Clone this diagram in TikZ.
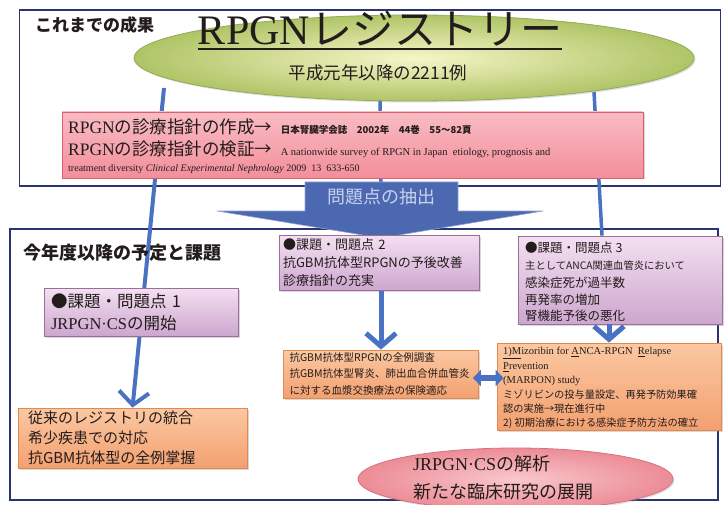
\documentclass[tikz,border=0pt]{standalone}
\usepackage{fontspec}
\setmainfont{Noto Sans CJK JP}
\newfontfamily\latf{Liberation Serif}
\usetikzlibrary{arrows.meta,shapes.geometric,shadows}
\newcommand\fsz[2]{\fontsize{#1}{#2}\selectfont}
\definecolor{navy}{HTML}{2A346E}
\definecolor{lineblue}{HTML}{4A72C2}
\definecolor{arrblue}{HTML}{4C68B0}
\definecolor{arrtext}{HTML}{C8D2EE}
\definecolor{greenin}{HTML}{F6F6C8}
\definecolor{greenout}{HTML}{AFC466}
\definecolor{greenbd}{HTML}{94AA58}
\definecolor{pinktop}{HTML}{F9BCC4}
\definecolor{pinkbot}{HTML}{F38E9A}
\definecolor{pinkbd}{HTML}{DE5E6E}
\definecolor{purtop}{HTML}{F3E0F1}
\definecolor{purbot}{HTML}{CDA6CF}
\definecolor{purbd}{HTML}{9A7098}
\definecolor{ortop}{HTML}{FBC8A2}
\definecolor{orbot}{HTML}{F3A070}
\definecolor{orbd}{HTML}{E08A50}
\definecolor{pelin}{HTML}{F9C8CC}
\definecolor{pelout}{HTML}{EC8C96}
\definecolor{pelbd}{HTML}{D87282}
\definecolor{ink}{HTML}{231C1C}
\pgfdeclarelayer{bg}
\pgfdeclarelayer{frames}
\pgfdeclarelayer{lines}
\pgfsetlayers{bg,frames,lines,main}
\begin{document}
\begin{tikzpicture}[x=1pt,y=-1pt,
  txt/.style={text=ink, inner sep=0},
  frame/.style={draw=navy, line width=1.6pt, inner sep=0},
  purbox/.style={draw=purbd, line width=0.8pt, top color=purtop, bottom color=purbot,
    drop shadow={opacity=0.3, shadow xshift=1.5pt, shadow yshift=-1.5pt},
    text=ink, align=left, inner ysep=0},
  orbox/.style={draw=orbd, line width=0.8pt, top color=ortop, bottom color=orbot,
    drop shadow={opacity=0.3, shadow xshift=1.5pt, shadow yshift=-1.5pt},
    text=ink, align=left, inner ysep=0},
  conn/.style={draw=lineblue, line width=3.5pt},
  chev/.style={draw=lineblue, line width=5pt, -{Straight Barb[length=13pt, width=30pt]}},
  dbl/.style={draw=lineblue, line width=6pt, {Triangle[length=8pt, width=16pt]}-{Triangle[length=8pt, width=16pt]}}
]
\begin{pgfonlayer}{bg}
\fill[white] (0,0) rectangle (725,505);
\end{pgfonlayer}
\useasboundingbox (0,0) rectangle (725,505);

% frames
\begin{pgfonlayer}{frames}
\node[frame, minimum width=701pt, minimum height=176pt] (topbox) at (370,98) {};
\node[frame, minimum width=708pt, minimum height=271pt] (lowbox) at (364,364.5) {};
\end{pgfonlayer}

% top part
\node[txt, anchor=west, font=\bfseries\fsz{17}{20}] (past) at (35,25) {これまでの成果};
\node[ellipse, draw=greenbd, line width=0.8pt, inner color=greenin, outer color=greenout,
  minimum width=560pt, minimum height=86pt,
  drop shadow={opacity=0.25, shadow xshift=1.5pt, shadow yshift=-1.5pt}] (reg) at (414,58) {};
\node[txt, anchor=base, font=\fsz{42}{46}] (title) at (380,45) {{\latf RPGN}レジストリー};
\draw[ink, line width=1.8pt] ([yshift=-4pt]title.base west) -- ([yshift=-4pt]title.base east);
\node[txt, font=\fsz{17.5}{20}] (sub) at (378,73) {平成元年以降の2211例};

\node[draw=pinkbd, line width=0.8pt, top color=pinktop, bottom color=pinkbot,
  minimum width=581pt, minimum height=66pt, inner sep=0,
  drop shadow={opacity=0.3, shadow xshift=1.5pt, shadow yshift=-1.5pt}] (pinkbox) at (352.5,145) {};
\node[txt, anchor=base west, font=\fsz{17.5}{20}] (p1a) at (68,134) {{\latf RPGN}の診療指針の作成→};
\node[txt, anchor=base west, font=\bfseries\fsz{9.5}{11}] (p1b) at ([xshift=8pt]p1a.base east) {日本腎臓学会誌\quad 2002年\quad 44巻\quad 55～82頁};
\node[txt, anchor=base west, font=\fsz{17.5}{20}] (p2a) at (68,156) {{\latf RPGN}の診療指針の検証→};
\node[txt, anchor=base west, font=\latf\fsz{10.5}{12}] (p2b) at ([xshift=8pt]p2a.base east) {A nationwide survey of RPGN in Japan\enspace etiology, prognosis and};
\node[txt, anchor=base west, font=\latf\fsz{10}{12}] (p3) at (68,172) {treatment diversity \textit{Clinical Experimental Nephrology} 2009\enspace 13\enspace 633-650};

% big arrow
\coordinate (arrtop) at (381,182);
\fill[arrblue, draw=arrblue!60!white, line width=0.6pt] (305,182) -- (458,182) -- (458,211) -- (543,211) -- (381,238) -- (217,211) -- (305,211) -- cycle;
\node[txt, text=arrtext, font=\fsz{18}{20}] (extract) at (381,197) {問題点の抽出};

% lower part
\node[txt, anchor=west, font=\bfseries\fsz{18}{20}] (future) at (23,253) {今年度以降の予定と課題};

\node[purbox, minimum height=48pt, text width=180pt, inner xsep=7pt, font=\fsz{16.5}{22}] (b1) at (141,312)
  {●課題・問題点 1\\{\latf JRPGN·CS}の開始};
\node[purbox, minimum height=55pt, text width=192pt, inner xsep=4pt, font=\fsz{13}{18}] (b2) at (379,263)
  {●課題・問題点 2\\抗GBM抗体型RPGNの予後改善\\診療指針の充実};
\node[purbox, minimum height=88pt, minimum width=204pt, inner sep=0] (b3) at (620,280) {};
\node[txt, anchor=west, font=\fsz{12.5}{14}] (b3a) at (525,248) {●課題・問題点 3};
\node[txt, anchor=west, font=\fsz{10.3}{12}] (b3b) at (525,266) {主としてANCA関連血管炎において};
\node[txt, anchor=west, font=\fsz{12.5}{14}] (b3c) at (525,283) {感染症死が過半数};
\node[txt, anchor=west, font=\fsz{12.5}{14}] (b3d) at (525,300) {再発率の増加};
\node[txt, anchor=west, font=\fsz{12.5}{14}] (b3e) at (525,316) {腎機能予後の悪化};

\node[orbox, minimum height=48pt, text width=183pt, inner xsep=6pt, font=\fsz{10.5}{16.5}] (o2) at (381,374)
  {抗GBM抗体型RPGNの全例調査\\抗GBM抗体型腎炎、肺出血合併血管炎\\に対する血漿交換療法の保険適応};
\node[orbox, minimum height=87pt, minimum width=224pt, inner sep=0] (o3) at (609,386.5) {};
\node[txt, anchor=west, font=\latf\fsz{10.5}{12}] (o3a) at (503,353) {\underline{1)M}izoribin for \underline{A}NCA-RPGN\enspace \underline{R}elapse};
\node[txt, anchor=west, font=\latf\fsz{10.5}{12}] (o3b) at (503,367) {\underline{P}revention};
\node[txt, anchor=west, font=\latf\fsz{10.5}{12}] (o3c) at (503,381) {(MARPON) study};
\node[txt, anchor=west, font=\fsz{10.2}{12}] (o3d) at (503,395) {ミゾリビンの投与量設定、再発予防効果確};
\node[txt, anchor=west, font=\fsz{10.2}{12}] (o3e) at (503,409) {認の実施→現在進行中};
\node[txt, anchor=west, font=\fsz{10.2}{12}] (o3f) at (503,423) {2) 初期治療における感染症予防方法の確立};

\node[orbox, minimum height=60pt, text width=209pt, inner xsep=10pt, font=\fsz{15}{20}] (o1) at (132.5,438)
  {従来のレジストリの統合\\希少疾患での対応\\抗GBM抗体型の全例掌握};

\node[ellipse, draw=pelbd, line width=0.8pt, inner color=pelin, outer color=pelout,
  minimum width=315pt, minimum height=62pt, inner sep=0,
  drop shadow={opacity=0.25, shadow xshift=1.5pt, shadow yshift=-1.5pt}] (pel) at (515.5,479) {};
\node[txt, align=left, font=\fsz{18}{28}] (peltext) at (503,478) {{\latf JRPGN·CS}の解析\\新たな臨床研究の展開};

% connectors
\begin{pgfonlayer}{lines}
\coordinate (lA) at (164,88);
\coordinate (lB) at (380,95);
\coordinate (lC) at (594,92);
\draw[conn, line width=4pt, -{Straight Barb[length=13pt, width=30pt]}] (lA) -- (o1.north);
\draw[conn] (lB) -- (arrtop);
\draw[conn] (lC) -- ([xshift=-18pt]b3.north);
\end{pgfonlayer}
\draw[chev] (b2.south -| o2.north) -- (o2.north);
\draw[chev] (b3.south -| o3.north) -- (o3.north);
\draw[dbl] ([yshift=-4pt, xshift=-6pt]o2.east) -- ([yshift=-4pt, xshift=7pt]o2.east -| o3.west);
\end{tikzpicture}
\end{document}
